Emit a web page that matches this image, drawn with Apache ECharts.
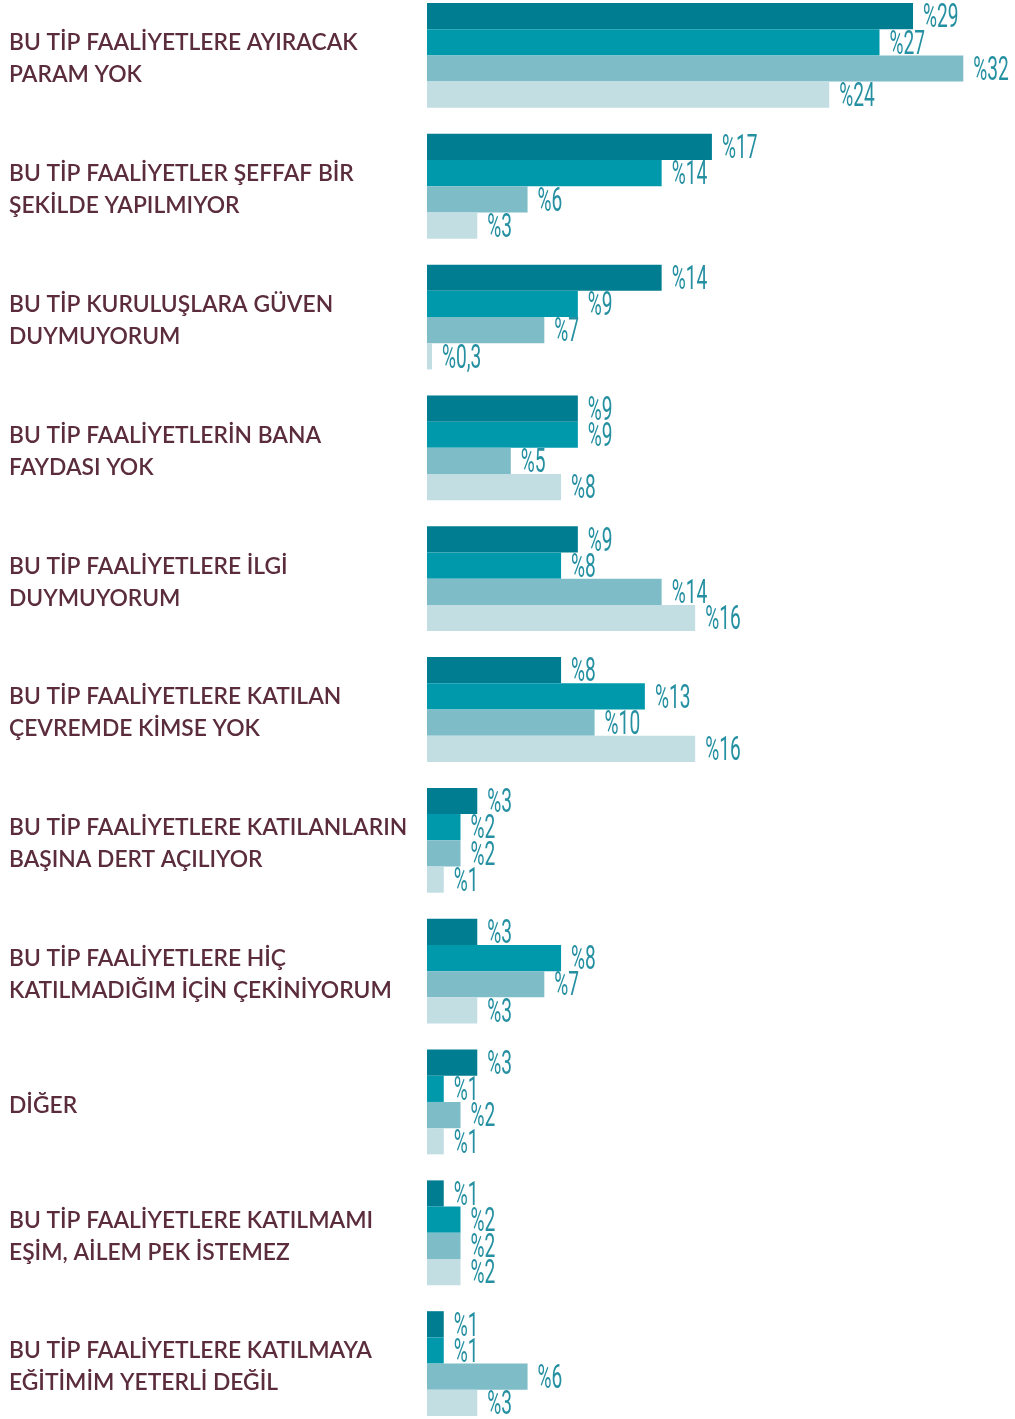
<!DOCTYPE html>
<html><head><meta charset="utf-8">
<script src="https://cdn.jsdelivr.net/npm/echarts@6/dist/echarts.min.js"></script>
<style>html,body{margin:0;padding:0;background:#fff;overflow:hidden;width:1015px;height:1419px}#c{position:absolute;left:0;top:-10px;width:1015px;height:1439px}</style>
</head><body><div id="c"></div>
<script>
const categories = [
  "BU TİP FAALİYETLERE AYIRACAK\nPARAM YOK",
  "BU TİP FAALİYETLER ŞEFFAF BİR\nŞEKİLDE YAPILMIYOR",
  "BU TİP KURULUŞLARA GÜVEN\nDUYMUYORUM",
  "BU TİP FAALİYETLERİN BANA\nFAYDASI YOK",
  "BU TİP FAALİYETLERE İLGİ\nDUYMUYORUM",
  "BU TİP FAALİYETLERE KATILAN\nÇEVREMDE KİMSE YOK",
  "BU TİP FAALİYETLERE KATILANLARIN\nBAŞINA DERT AÇILIYOR",
  "BU TİP FAALİYETLERE HİÇ\nKATILMADIĞIM İÇİN ÇEKİNİYORUM",
  "DİĞER",
  "BU TİP FAALİYETLERE KATILMAMI\nEŞİM, AİLEM PEK İSTEMEZ",
  "BU TİP FAALİYETLERE KATILMAYA\nEĞİTİMİM YETERLİ DEĞİL"
];
const series1 = [29, 17, 14, 9, 9, 8, 3, 3, 3, 1, 1];
const series2 = [27, 14, 9, 9, 8, 13, 2, 8, 1, 2, 1];
const series3 = [32, 6, 7, 5, 14, 10, 2, 7, 2, 2, 6];
const series4 = [24, 3, 0.3, 8, 16, 16, 1, 3, 1, 2, 3];
const allSeries = [series1, series2, series3, series4];
const colors = ["#007d91", "#0099ac", "#7ebcc8", "#c3dee3"];
const BAR_W = 26.2;

const chart = echarts.init(document.getElementById('c'), null, {renderer: 'canvas'});
const fmt = v => '%' + String(v).replace('.', ',');

const barSeries = allSeries.map((d, i) => ({
  type: 'bar', data: d, barWidth: BAR_W, barGap: '0%',
  itemStyle: {color: colors[i]}, silent: true, animation: false
}));

const labelSeries = allSeries.map((d, i) => ({
  type: 'custom', silent: true, animation: false, z: 5,
  data: d.map((v, k) => [v, k]),
  encode: {x: 0, y: 1},
  renderItem: function (params, api) {
    const v = api.value(0);
    const pt = api.coord([v, api.value(1)]);
    const off = (i - 1.5) * BAR_W;
    return {
      type: 'text',
      x: pt[0] + 10, y: pt[1] + off + 3,
      scaleX: 0.58,
      style: {
        text: fmt(v), fill: '#2590a1',
        font: '400 33px Roboto, "Open Sans", sans-serif',
        verticalAlign: 'middle', align: 'left'
      }
    };
  }
}));

chart.setOption({
  animation: false,
  grid: {left: 427, top: 0, width: 586.6, height: 1439},
  xAxis: {type: 'value', min: 0, max: 35, show: false},
  yAxis: {
    type: 'category', data: categories, inverse: true,
    axisLine: {show: false}, axisTick: {show: false},
    axisLabel: {
      align: 'left', margin: 418,
      formatter: function (val) {
        return '{s| }\n' + val.split('\n').map(l => '{a|' + l + '}').join('\n');
      },
      rich: {
        s: {fontSize: 1, lineHeight: 7},
        a: {
          color: '#5b2c3c', fontFamily: 'Lato, "Noto Sans", sans-serif',
          fontWeight: 600, fontSize: 22.8, lineHeight: 32
        }
      }
    }
  },
  series: barSeries.concat(labelSeries)
});
</script></body></html>
